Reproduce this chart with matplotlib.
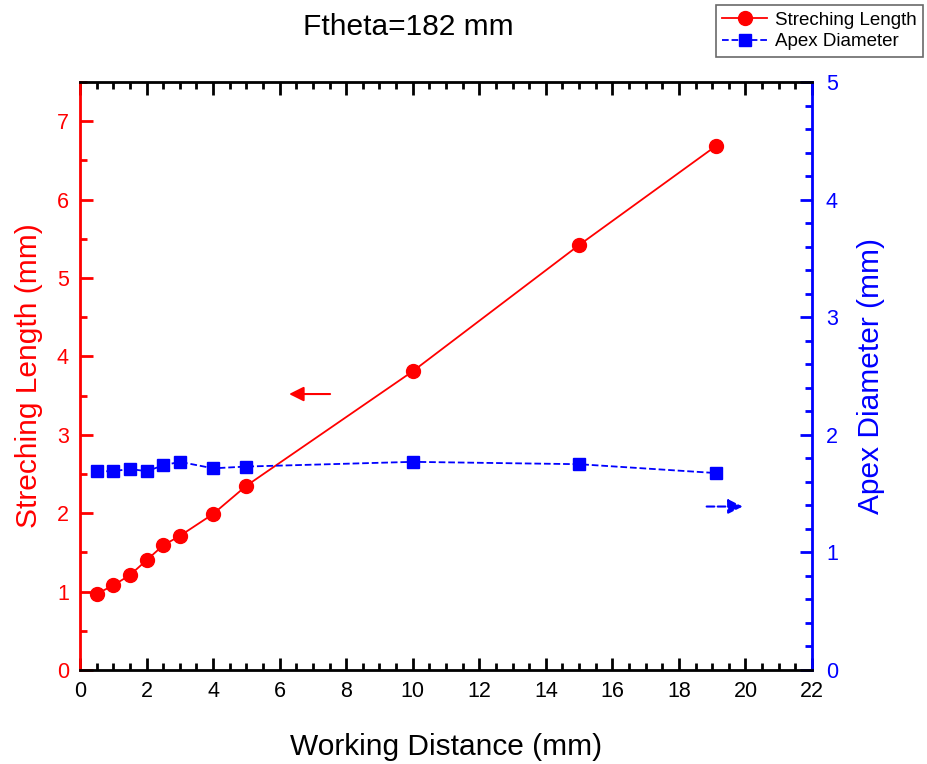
import numpy as np
import matplotlib
matplotlib.use('Agg')
from matplotlib import pyplot as plt
from matplotlib.ticker import MultipleLocator

plt.rcParams['font.family'] = ['Liberation Sans', 'DejaVu Sans']

# data
distance = [0.5, 1.0, 1.5, 2.0, 2.5, 3.0, 4.0, 5.0, 10.0, 15.0, 19.1]
stretch_len = [0.97, 1.08, 1.21, 1.40, 1.59, 1.71, 1.99, 2.35, 3.81, 5.42, 6.68]
apex_diam = [1.69, 1.69, 1.71, 1.69, 1.74, 1.77, 1.715, 1.73, 1.77, 1.75, 1.675]

red = '#ff0000'
blue = '#0000ff'

fig = plt.figure(figsize=(9.28, 7.64), dpi=100)
ax = fig.add_axes([80 / 928, 1 - 670 / 764, 732 / 928, 588 / 764])
ax2 = ax.twinx()

l1, = ax.plot(distance, stretch_len, '-o', color=red, ms=10, lw=1.3,
              label='Streching Length')
l2, = ax2.plot(distance, apex_diam, '--s', color=blue, ms=8, lw=1.3,
               label='Apex Diameter')

ax.set_xlim(0, 22)
ax.set_ylim(0, 7.5)
ax2.set_ylim(0, 5)

ax.xaxis.set_major_locator(MultipleLocator(2))
ax.xaxis.set_minor_locator(MultipleLocator(0.5))
ax.yaxis.set_major_locator(MultipleLocator(1))
ax.yaxis.set_minor_locator(MultipleLocator(0.5))
ax2.yaxis.set_major_locator(MultipleLocator(1))
ax2.yaxis.set_minor_locator(MultipleLocator(0.2))

ax.tick_params(axis='x', which='both', direction='in', top=True, width=2,
               labelsize=15.5, pad=8)
ax.tick_params(axis='x', which='major', length=9)
ax.tick_params(axis='x', which='minor', length=5)
ax.tick_params(axis='y', which='both', direction='in', colors=red, width=2,
               labelsize=15.5, labelcolor=red, pad=8)
ax.tick_params(axis='y', which='major', length=9)
ax.tick_params(axis='y', which='minor', length=5)
ax2.tick_params(axis='y', which='both', direction='in', colors=blue, width=2,
                labelsize=15.5, labelcolor=blue, pad=10)
ax2.tick_params(axis='y', which='major', length=9)
ax2.tick_params(axis='y', which='minor', length=5)

for sp in ax2.spines.values():
    sp.set_linewidth(2)
ax2.spines['left'].set_color(red)
ax2.spines['right'].set_color(blue)
ax2.spines['top'].set_color('black')
ax2.spines['bottom'].set_color('black')

ax.set_xlabel('Working Distance (mm)', fontsize=21.5, labelpad=22)
ax.set_ylabel('Streching Length (mm)', fontsize=21.5, color=red, labelpad=10)
ax2.set_ylabel('Apex Diameter (mm)', fontsize=21.5, color=blue, labelpad=14)

# direction arrows
ax.annotate('', xy=(6.2, 3.52), xytext=(7.6, 3.52),
            arrowprops=dict(arrowstyle='-|>', color=red, lw=1.5,
                            mutation_scale=22))
ax2.annotate('', xy=(20.0, 1.39), xytext=(18.75, 1.39),
             arrowprops=dict(arrowstyle='-|>', color=blue, lw=1.5,
                             linestyle='--', mutation_scale=22))

fig.text(408 / 928, 1 - 27 / 764, 'Ftheta=182 mm', fontsize=21.5,
         ha='center', va='center')

leg = fig.legend(handles=[l1, l2], loc='upper right',
                 bbox_to_anchor=(923 / 928, 1 - 5 / 764), fontsize=13.5,
                 frameon=True, fancybox=False, edgecolor='#444444',
                 handlelength=2.4, borderpad=0.35, labelspacing=0.25,
                 handletextpad=0.4, borderaxespad=0)
leg.get_frame().set_linewidth(1.2)

fig.savefig('out.png', dpi=100)
